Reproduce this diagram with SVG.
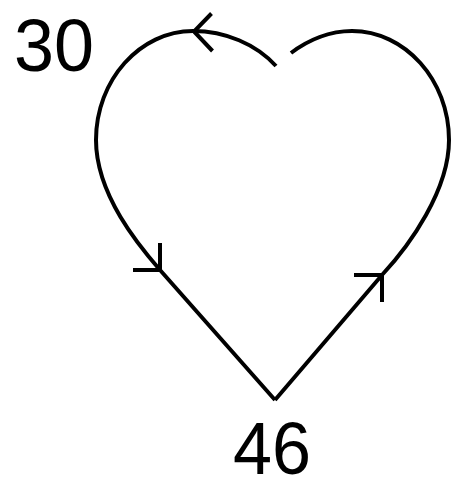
<svg xmlns="http://www.w3.org/2000/svg" width="451" height="489" viewBox="0 0 451 489">
<style>
.edge{fill:none;stroke:#000;stroke-width:4;stroke-linejoin:miter}
.lbl{font-family:"Liberation Sans",Arial,sans-serif;font-size:75px;fill:#000;text-anchor:middle}
</style>
<rect width="451" height="489" fill="#fff"/>
<g id="connectors">
<path class="edge" d="M275,400 L160,270 C140,247 96,195 96,140 C96,80 140,31 193,31 C225,31 256,44 276,66"/>
<path class="edge" d="M291,53 C308,40 330,31 352,31 C405,31 449,80 449,140 C449,190 410,245 382,275 L275,400"/>
<polyline class="edge" points="211.5,13.5 194,31.5 212.5,51"/>
<polyline class="edge" points="133,270 160,270 160,243"/>
<polyline class="edge" points="354,275 382,275 382,302"/>
</g>
<g id="node-30"><text class="lbl" x="54" y="71" textLength="80" lengthAdjust="spacingAndGlyphs">30</text></g>
<g id="node-46"><text class="lbl" x="272" y="474" font-size="72" textLength="78" lengthAdjust="spacingAndGlyphs">46</text></g>
</svg>
